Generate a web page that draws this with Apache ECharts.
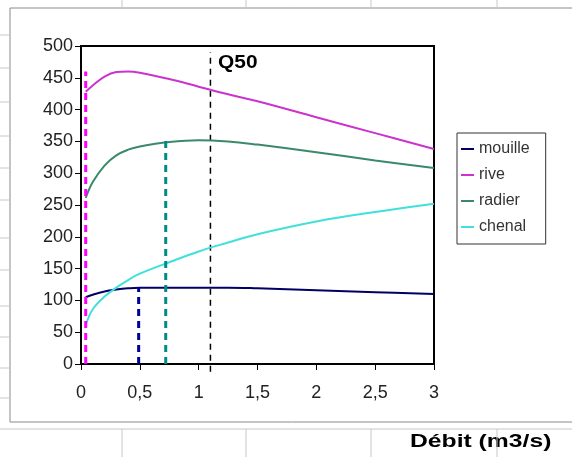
<!DOCTYPE html>
<html>
<head>
<meta charset="utf-8">
<script src="https://cdn.jsdelivr.net/npm/echarts@6/dist/echarts.min.js"></script>
<style>
  html, body { margin: 0; padding: 0; background: #fff; }
  #chart { width: 572px; height: 457px; }
</style>
</head>
<body>
<div id="chart"></div>
<script>
var myChart = echarts.init(document.getElementById('chart'));

// débit (m3/s)
var debit = [0.04, 0.1, 0.2, 0.3, 0.4, 0.5, 0.75, 1, 1.25, 1.5, 2, 2.5, 3];
var mouille = [105, 109, 114, 117, 119, 120, 120, 120, 120, 119, 116, 113, 110];
var rive = [428, 438, 452, 459, 460, 458, 448, 436, 424, 413, 388, 363, 338];
var radier = [261, 286, 312, 328, 337, 342, 349, 352, 350, 345, 333, 320, 308];
var chenal = [61, 86, 106, 120, 132, 142, 160, 177, 191, 204, 224, 239, 252];

var seriesNames = ['mouille', 'rive', 'radier', 'chenal'];
var seriesValues = [mouille, rive, radier, chenal];
var seriesColors = ['#000066', '#cc33cc', '#3a8a6a', '#40e0dc'];

// verticales pointillées : [x, y bas, y haut]
var refX = [0.04, 0.49, 0.72, 1.1];
var refTop = [460, 120, 351, 490];
var refBottom = [0, 0, 0, -12];
var refColors = ['#ff00ff', '#000099', '#008b8b', '#000000'];

var font = 'Liberation Sans, Arial, sans-serif';

function pairs(xs, ys) {
    return xs.map(function (x, i) { return [x, ys[i]]; });
}

var series = seriesNames.map(function (name, i) {
    return {
        name: name,
        type: 'line',
        smooth: 0.4,
        symbol: 'none',
        data: pairs(debit, seriesValues[i]),
        lineStyle: { color: seriesColors[i], width: 2 },
        itemStyle: { color: seriesColors[i] },
        z: 3
    };
});

refX.forEach(function (x, i) {
    var black = refColors[i] === '#000000';
    series.push({
        name: 'ref' + i,
        type: 'line',
        symbol: 'none',
        silent: true,
        clip: false,
        data: [[x, refBottom[i]], [x, refTop[i]]],
        lineStyle: {
            color: refColors[i],
            width: black ? 1.5 : 3,
            type: black ? [6, 5] : [7, 5]
        },
        z: black ? 2 : 4
    });
});

// quadrillage du tableur autour du graphique
var sheetLines = [];
[122, 246, 371, 497].forEach(function (x) {
    sheetLines.push({ type: 'line', shape: { x1: x, y1: 0, x2: x, y2: 8 }, style: { stroke: '#c8c8c8', lineWidth: 1 } });
    sheetLines.push({ type: 'line', shape: { x1: x, y1: 429, x2: x, y2: 457 }, style: { stroke: '#c8c8c8', lineWidth: 1 } });
});
[35, 68, 102, 136, 168, 200, 238, 270, 306, 337, 368, 398].forEach(function (y) {
    sheetLines.push({ type: 'line', shape: { x1: 0, y1: y, x2: 9, y2: y }, style: { stroke: '#c8c8c8', lineWidth: 1 } });
});
sheetLines.push({ type: 'line', shape: { x1: 0, y1: 429, x2: 572, y2: 429 }, style: { stroke: '#c8c8c8', lineWidth: 1 } });

var option = {
    backgroundColor: '#fff',
    animation: false,
    grid: {
        left: 81, top: 46, width: 353, height: 318,
        show: true, borderColor: '#000', borderWidth: 2, backgroundColor: 'transparent'
    },
    legend: {
        data: seriesNames,
        orient: 'vertical',
        left: 457, top: 133,
        padding: [8, 16, 9, 4],
        itemGap: 10,
        itemWidth: 13, itemHeight: 2,
        icon: 'rect',
        backgroundColor: '#fff',
        borderColor: '#333', borderWidth: 1,
        textStyle: { fontFamily: font, fontSize: 16, color: '#333' }
    },
    xAxis: {
        type: 'value',
        min: 0, max: 3, interval: 0.5,
        axisLine: { show: true, onZero: false, lineStyle: { color: '#000', width: 2 } },
        axisTick: { show: true, length: 6, lineStyle: { color: '#000' } },
        axisLabel: {
            margin: 20, fontFamily: font, fontSize: 18, color: '#222',
            formatter: function (v) { return String(v).replace('.', ','); }
        },
        splitLine: { show: false }
    },
    yAxis: {
        type: 'value',
        min: 0, max: 500, interval: 50,
        axisLine: { show: true, lineStyle: { color: '#000', width: 2 } },
        axisTick: { show: true, length: 6, lineStyle: { color: '#000' } },
        axisLabel: { margin: 8, fontFamily: font, fontSize: 18, color: '#222' },
        splitLine: { show: false }
    },
    graphic: [
        { type: 'rect', shape: { x: 10, y: 8, width: 600, height: 414 }, style: { fill: 'none', stroke: '#8a8a8a', lineWidth: 1 }, z: -1 },
        { type: 'text', x: 218, y: 53, scaleX: 1.1, style: { text: 'Q50', font: 'bold 19px ' + font, fill: '#000' } },
        { type: 'text', x: 410, y: 432, scaleX: 1.3, style: { text: 'Débit (m3/s)', font: 'bold 19px ' + font, fill: '#000' } }
    ].concat(sheetLines),
    series: series
};
myChart.setOption(option);
</script>
</body>
</html>
